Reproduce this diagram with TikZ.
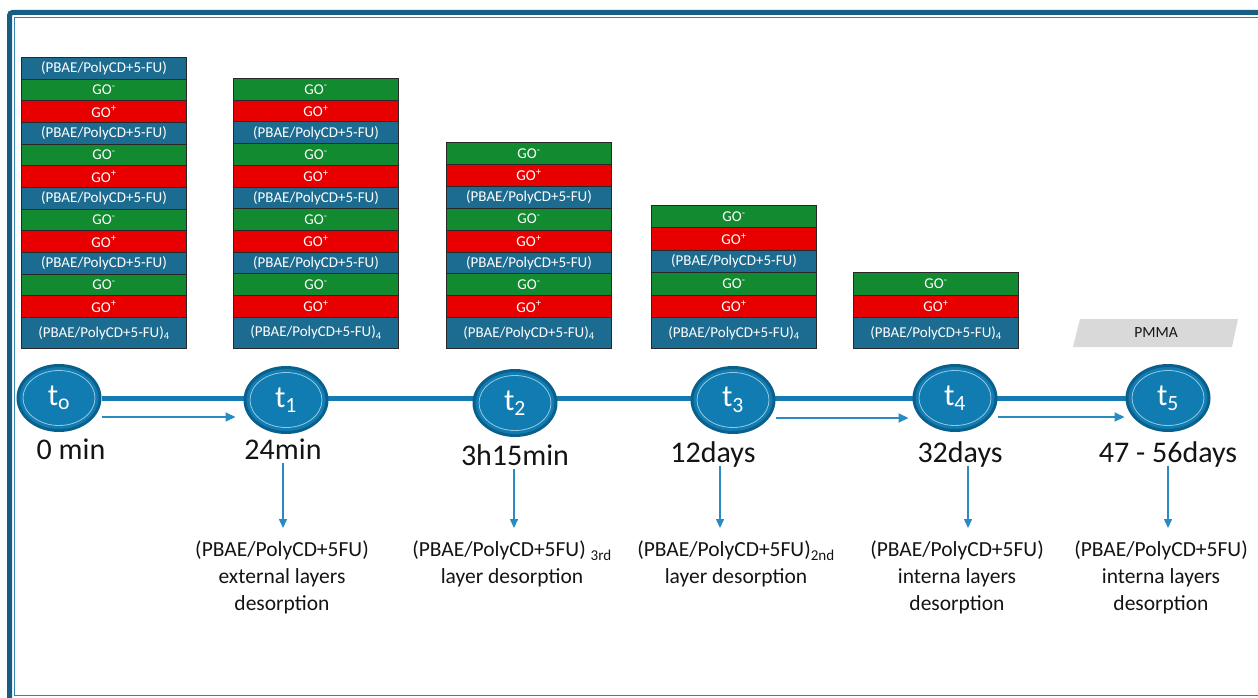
\documentclass[tikz,border=0pt]{standalone}
\usepackage{fontspec}
\setmainfont{Carlito}
\usetikzlibrary{arrows.meta,shapes.geometric,backgrounds}
\definecolor{pbblue}{RGB}{28,108,145}
\definecolor{gogreen}{RGB}{18,138,48}
\definecolor{gored}{RGB}{232,0,0}
\definecolor{laydraw}{RGB}{40,40,40}
\definecolor{tfill}{RGB}{16,124,178}
\definecolor{tborder}{RGB}{10,96,140}
\definecolor{tring}{RGB}{150,200,225}
\definecolor{tline}{RGB}{22,122,178}
\definecolor{arrc}{RGB}{40,140,195}
\definecolor{framethk}{RGB}{24,94,132}
\definecolor{framethn}{RGB}{55,130,170}
\definecolor{pmgray}{RGB}{217,217,217}
\definecolor{txt}{RGB}{20,20,20}
\def\ltlypb{(PBAE/PolyCD+5-FU)}
\def\ltlygm{GO\textsuperscript{-}}
\def\ltlygp{GO\textsuperscript{+}}
\def\ltlyfin{(PBAE/PolyCD+5-FU)\textsubscript{4}}
\newcommand\stackdraw[5]{%
  \foreach \ty [count=\j from 0] in {#5} {
    \pgfmathsetmacro\yy{#3+\j*#4}
    \node[layer, minimum height=#4, \ty] (#1-\j) at (#2,\yy) {\csname lt\ty\endcsname};
  }}
\begin{document}
\begin{tikzpicture}[x=1pt,y=-1pt,
  layer/.style={draw=laydraw, line width=1, inner sep=0, minimum width=165,
    anchor=north west, text=white, font=\fontsize{15}{17}\selectfont},
  lypb/.style={fill=pbblue},
  lygm/.style={fill=gogreen},
  lygp/.style={fill=gored},
  lyfin/.style={fill=pbblue, minimum height=31},
  tnode/.style={ellipse, minimum width=82, minimum height=65, inner sep=0,
    fill=tfill, draw=tborder, line width=3, text=white,
    font=\fontsize{31}{33}\selectfont,
    path picture={\draw[tring, line width=0.8] (path picture bounding box.center) ellipse (36 and 27.5);}},
  tlinestyle/.style={draw=tline, line width=5},
  harr/.style={draw=arrc, line width=2, -{Triangle[length=10pt,width=9pt]}},
  darr/.style={draw=arrc, line width=1.5, -{Triangle[length=9pt,width=8pt]}},
  tlab/.style={anchor=base, inner sep=0, outer ysep=4, text depth=0pt,
    font=\fontsize{30}{32}\selectfont, text=txt},
  desc/.style={anchor=north, align=center, inner sep=0, outer ysep=13,
    font=\fontsize{21.5}{27}\selectfont, text=txt},
  pmtext/.style={inner sep=0, font=\fontsize{15.5}{17}\selectfont, text=txt}
]
\useasboundingbox (0,0) rectangle (1258,698);
\clip (0,0) rectangle (1258,698);
% frame
\draw[framethk, line width=5, rounded corners=3] (9.5,720) -- (9.5,12.5) -- (1280,12.5);
\draw[framethn, line width=1.5] (1280,695.5) -- (14.5,695.5) -- (14.5,17.5) -- (1280,17.5);
% stacks
\stackdraw{s0}{21}{57}{21.67}{lypb,lygm,lygp,lypb,lygm,lygp,lypb,lygm,lygp,lypb,lygm,lygp,lyfin}
\stackdraw{s1}{233}{78}{21.7}{lygm,lygp,lypb,lygm,lygp,lypb,lygm,lygp,lypb,lygm,lygp,lyfin}
\stackdraw{s2}{446}{142}{21.9}{lygm,lygp,lypb,lygm,lygp,lypb,lygm,lygp,lyfin}
\stackdraw{s3}{651}{205}{22.4}{lygm,lygp,lypb,lygm,lygp,lyfin}
\stackdraw{s4}{853}{272}{22.5}{lygm,lygp,lyfin}
% PMMA
\fill[pmgray] (1080,319) -- (1238,319) -- (1232,347) -- (1073,347) -- cycle;
\node[pmtext] (pm) at (1156,333) {PMMA};
% time nodes
\node[tnode] (t0) at (59,398) {t\textsubscript{o}};
\node[tnode] (t1) at (286,400) {t\textsubscript{1}};
\node[tnode] (t2) at (515,403) {t\textsubscript{2}};
\node[tnode] (t3) at (733,400) {t\textsubscript{3}};
\node[tnode] (t4) at (955,398) {t\textsubscript{4}};
\node[tnode] (t5) at (1168,398) {t\textsubscript{5}};
\begin{scope}[on background layer]
\draw[tlinestyle] (t0) -- (t5);
\end{scope}
\draw[harr] ([yshift=-19]t0.east) -- ([yshift=-17,xshift=-8]t1.west);
\draw[harr] ([yshift=-18]t3.east) -- ([yshift=-20,xshift=-4]t4.west);
\draw[harr] ([yshift=-19]t4.east) -- ([yshift=-19,xshift=-1]t5.west);
% time labels
\node[tlab] (l0) at (71,459) {0 min};
\node[tlab] (l1) at (283,459) {24min};
\node[tlab] (l2) at (515,465) {3h15min};
\node[tlab] (l3) at (713,462) {12days};
\node[tlab] (l4) at (960,462) {32days};
\node[tlab] (l5) at (1168,462) {47 - 56days};
% descriptions
\node[desc] (d1) at (282,528) {(PBAE/PolyCD+5FU)\\external layers\\desorption};
\node[desc] (d2) at (512,528) {(PBAE/PolyCD+5FU) \textsubscript{3rd}\\layer desorption};
\node[desc] (d3) at (736,528) {(PBAE/PolyCD+5FU)\textsubscript{2nd}\\layer desorption};
\node[desc] (d4) at (957,528) {(PBAE/PolyCD+5FU)\\interna layers\\desorption};
\node[desc] (d5) at (1161,528) {(PBAE/PolyCD+5FU)\\interna layers\\desorption};
% down arrows
\coordinate (ax1) at (283,0);
\coordinate (ax2) at (514,0);
\coordinate (ax3) at (720,0);
\coordinate (ax4) at (968,0);
\coordinate (ax5) at (1168,0);
\draw[darr] (l1.south -| ax1) -- (d1.north -| ax1);
\draw[darr] (l2.south -| ax2) -- (d2.north -| ax2);
\draw[darr] (l3.south -| ax3) -- (d3.north -| ax3);
\draw[darr] (l4.south -| ax4) -- (d4.north -| ax4);
\draw[darr] (l5.south -| ax5) -- (d5.north -| ax5);
\end{tikzpicture}
\end{document}
